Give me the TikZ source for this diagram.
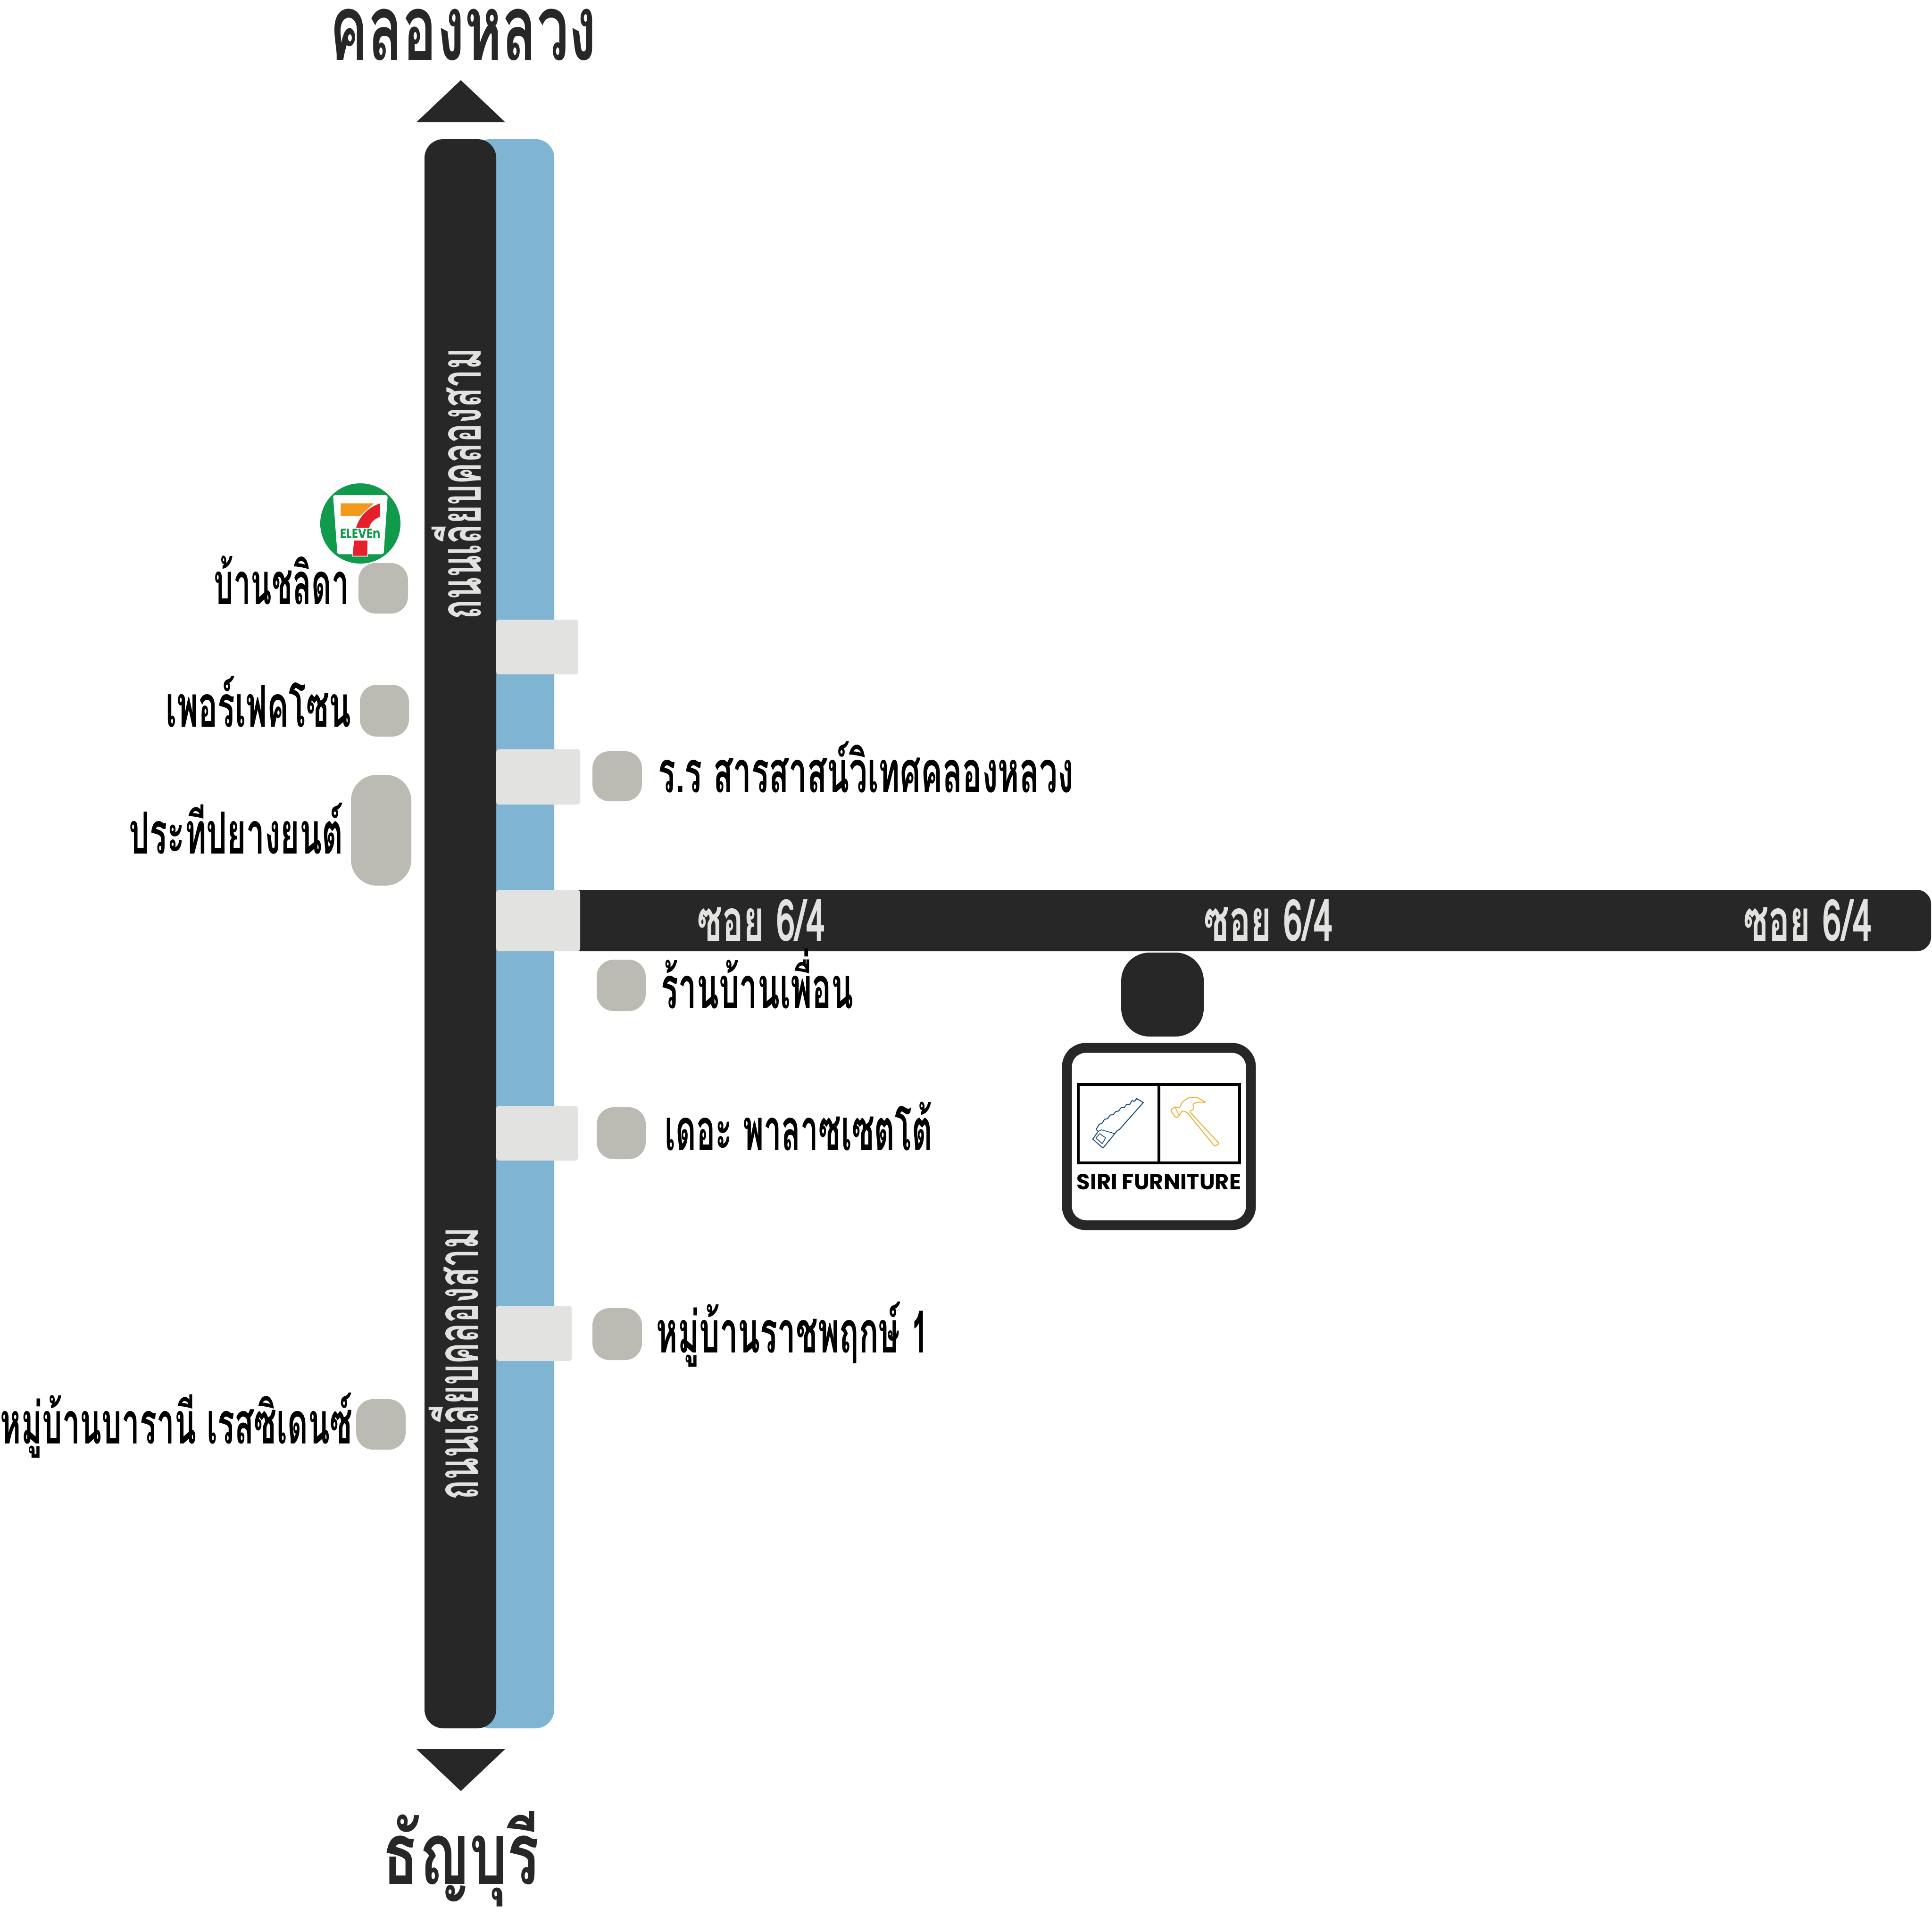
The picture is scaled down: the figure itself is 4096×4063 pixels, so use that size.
\documentclass[tikz,border=0pt]{standalone}
\usepackage{fontspec}
\usepackage{graphicx}
\newfontfamily\thaifont[Script=Thai]{Loma}
\newfontfamily\logofont{Poppins}
\definecolor{roaddark}{HTML}{272727}
\definecolor{canal}{HTML}{7FB4D3}
\definecolor{bridge}{HTML}{E2E2E0}
\definecolor{building}{HTML}{BBBAB3}
\definecolor{sevengreen}{HTML}{0F9A4C}
\definecolor{sevenorange}{HTML}{F39A1E}
\definecolor{sevenred}{HTML}{E5202A}
\definecolor{sawblue}{HTML}{1F4E79}
\definecolor{hammeryellow}{HTML}{E9B233}
\newsavebox\tbox
\newcommand\thfit[3]{\sbox\tbox{\thaifont\bfseries\fontsize{#2}{#2}\selectfont #3}\resizebox{\dimexpr 0.01cm*#1\relax}{\ht\tbox}{\usebox\tbox}}
\tikzset{
  px/.style={x=0.01cm,y=-0.01cm},
  bldg/.style={fill=building,rounded corners=0.36cm},
  brdg/.style={fill=bridge,rounded corners=0.06cm},
  road/.style={fill=roaddark,rounded corners=0.4cm},
  lab/.style={anchor=base west,inner sep=0pt,text=black},
  biglab/.style={anchor=base west,inner sep=0pt,text=roaddark},
  roadlab/.style={anchor=base west,inner sep=0pt,text=bridge},
}
\begin{document}
\begin{tikzpicture}[px]
\useasboundingbox (0,0) rectangle (4096,4063);
\fill[white] (0,0) rectangle (4096,4063);
% canal and main road
\fill[canal,rounded corners=0.4cm] (1000,295) rectangle (1175,3665);
\fill[road] (900,295) rectangle (1052,3665);
% soi
\fill[roaddark,rounded corners=0.3cm] (1200,1887) rectangle (4094,2017);
% bridges
\fill[brdg] (1052,1314) -- (1226,1314) -- (1226,1430) -- (1052,1430) -- cycle;
\fill[brdg] (1052,1589) -- (1230,1589) -- (1230,1706) -- (1052,1706) -- cycle;
\fill[brdg] (1052,1887) -- (1230,1887) -- (1230,2017) -- (1052,2017) -- cycle;
\fill[brdg] (1052,2345) -- (1225,2345) -- (1225,2461) -- (1052,2461) -- cycle;
\fill[brdg] (1052,2769) -- (1212,2769) -- (1212,2886) -- (1052,2886) -- cycle;
% buildings
\fill[bldg] (760,1194) rectangle (865,1301);
\fill[bldg] (763,1452) rectangle (867,1562);
\fill[bldg,rounded corners=0.55cm] (744,1643) rectangle (872,1878);
\fill[bldg] (1256,1593) rectangle (1361,1699);
\fill[bldg] (1265,2035) rectangle (1369,2144);
\fill[bldg] (1265,2348) rectangle (1369,2458);
\fill[bldg] (1256,2774) rectangle (1361,2884);
\fill[bldg] (755,2967) rectangle (860,3074);
% direction triangles
\fill[roaddark] (977,170) -- (1071,259) -- (883,259) -- cycle;
\fill[roaddark] (883,3709) -- (1071,3709) -- (977,3798) -- cycle;
% big labels
\node[biglab] (north) at (699,127) {\thfit{565}{55}{คลองหลวง}};
\node[biglab] (south) at (810,3995) {\thfit{333}{52}{ธัญบุรี}};
% road labels
\node[roadlab,rotate=90] (roadA) at (1019,1314) {\thfit{575}{35}{ถนนเลียบคลองสาม}};
\node[roadlab,rotate=90] (roadB) at (1013,3181) {\thfit{577}{35}{ถนนเลียบคลองสาม}};
\node[roadlab] (soiA) at (1478,1995) {\thfit{271}{35}{ซอย 6/4}};
\node[roadlab] (soiB) at (2552,1995) {\thfit{274}{35}{ซอย 6/4}};
\node[roadlab] (soiC) at (3696,1995) {\thfit{272}{35}{ซอย 6/4}};
% place labels
\node[lab] (chalida) at (453,1281) {\thfit{286}{35}{บ้านชลิดา}};
\node[lab] (perfect) at (351,1541) {\thfit{393}{35}{เพอร์เฟคโซน}};
\node[lab] (pratheep) at (273,1810) {\thfit{454}{35}{ประทีปยางยนต์}};
\node[lab] (school) at (1395,1680) {\thfit{880}{35}{ร.ร สารสาสน์วิเทศคลองหลวง}};
\node[lab] (friend) at (1401,2138) {\thfit{408}{35}{ร้านบ้านเพื่อน}};
\node[lab] (palazzetto) at (1409,2439) {\thfit{567}{35}{เดอะ พาลาซเซตโต้}};
\node[lab] (ratchaphruek) at (1391,2868) {\thfit{578}{35}{หมู่บ้านราชพฤกษ์ 1}};
\node[lab] (barani) at (0,3061) {\thfit{746}{35}{หมู่บ้านบารานี เรสซิเดนซ์}};
% 7-Eleven logo
\begin{scope}[shift={(640,980)},x=0.01cm/3,y=-0.01cm/3]
\fill[sevengreen] (372,390) circle[radius=0.85cm];
\fill[white,rounded corners=0.04cm] (198,210) -- (546,210) -- (520,586) -- (226,586) -- cycle;
\fill[sevenorange] (247,262) -- (458,262) -- (370,342) -- (247,342) -- cycle;
\fill[sevenred] (497,262) -- (497,348) .. controls (460,360) and (435,385) .. (428,418) -- (345,418) .. controls (365,345) and (420,290) .. (497,262) -- cycle;
\fill[sevenred,draw=white,line width=0.4pt] (330,497) -- (420,497) -- (418,598) -- (320,598) -- cycle;
\node[inner sep=0pt,text=sevengreen] (eleven) at (372,455) {\resizebox{0.85cm}{0.2cm}{\logofont\bfseries ELEVEn}};
\end{scope}
% furniture pin
\fill[roaddark,rounded corners=0.6cm] (2377,2020) rectangle (2552,2198);
\draw[roaddark,line width=0.21cm,rounded corners=0.4cm,fill=white] (2262,2222) rectangle (2652,2598);
\draw[black,line width=0.055cm] (2286,2300) rectangle (2628,2466);
\draw[black,line width=0.055cm] (2457,2300) -- (2457,2466);
\node[inner sep=0pt,text=black] (siri) at (2457,2506) {\resizebox{3.48cm}{0.33cm}{\logofont\bfseries SIRI FURNITURE}};
\begin{scope}[shift={(2220,2000)},x=0.01cm/3,y=-0.01cm/2.45,line join=round]
% saw
\draw[sawblue,line width=0.02cm] (612,828) -- (570,808) -- (555,822) -- (540,818) -- (525,838) -- (505,838) -- (490,855) -- (470,855) -- (455,872) -- (437,875) -- (420,892) -- (400,893) -- (385,912) -- (365,915) -- (350,935) -- (330,942) -- (312,968) -- (325,978) -- (290,1018) -- (355,1065) -- (430,990) -- (445,975) -- (460,968) -- cycle;
\draw[sawblue,line width=0.016cm] (325,978) -- (345,970) -- (430,990);
\draw[sawblue,line width=0.016cm] (310,1012) -- (335,990) -- (372,1012) -- (350,1042) -- cycle;
% hammer
\draw[hammeryellow,line width=0.02cm,rounded corners=0.03cm] (785,868) -- (812,850) -- (840,858) -- (860,825) -- (900,803) -- (950,800) -- (1012,828) -- (960,825) -- (925,835) -- (935,860) -- (905,875) -- (1095,1042) -- (1065,1055) -- (890,880) -- (860,870) -- (832,905) -- (815,905) -- cycle;
\draw[hammeryellow,line width=0.018cm] (812,850) -- (838,892);
\end{scope}
\end{tikzpicture}
\end{document}
